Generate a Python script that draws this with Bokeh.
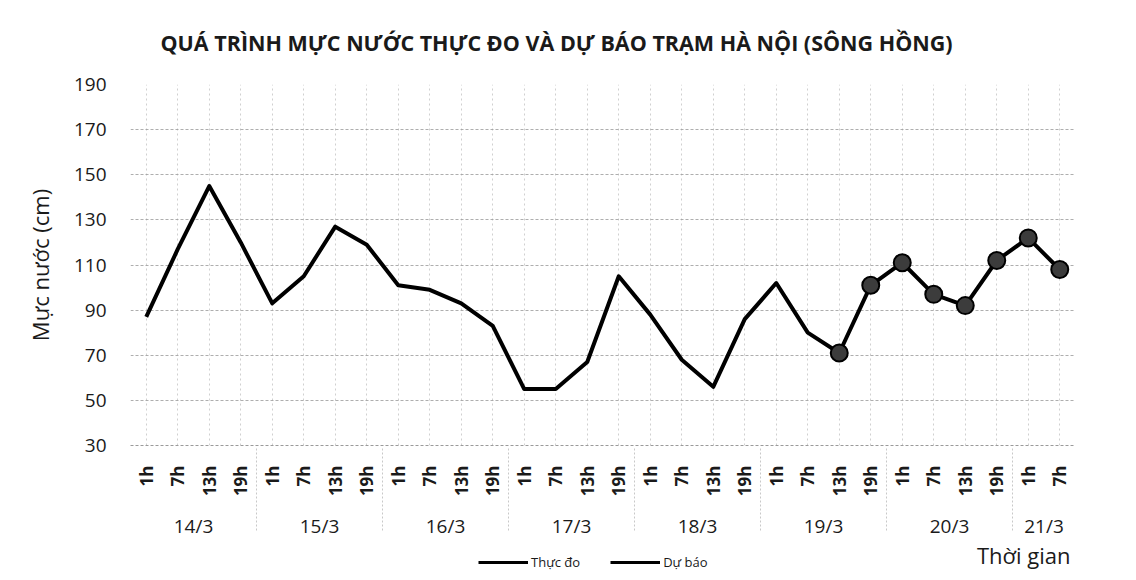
from bokeh.plotting import figure
from bokeh.layouts import column
from bokeh.models import (FactorRange, Range1d, Legend, LegendItem, ColumnDataSource, FixedTicker)
from bokeh.embed import file_html
from bokeh.resources import INLINE

dates = ["14/3", "15/3", "16/3", "17/3", "18/3", "19/3", "20/3", "21/3"]
hours = ["1h", "7h", "13h", "19h"]
last_day_hours = ["1h", "7h"]

observed = [87, 117, 145, 120,
            93, 105, 127, 119,
            101, 99, 93, 83,
            55, 55, 67, 105,
            88, 68, 56, 86,
            102, 80, 71]
forecast = [71, 101, 111, 97, 92, 112, 122, 108]
y_ticks = [30, 50, 70, 90, 110, 130, 150, 170, 190]
series_names = ["Thực đo", "Dự báo"]
x_title = "Thời gian"

factors = [(d, h) for d in dates[:-1] for h in hours] + [(dates[-1], h) for h in last_day_hours]
obs_x = factors[:len(observed)]
fc_x = factors[len(observed) - 1:len(observed) - 1 + len(forecast)]

FONT = "Open Sans"
TXT = "#1a1a1a"

p = figure(width=1136, height=542,
           x_range=FactorRange(*factors, group_padding=0, subgroup_padding=0, range_padding=0),
           y_range=Range1d(30, 190),
           output_backend="svg", toolbar_location=None,
           min_border_left=130, min_border_right=61, min_border_top=84, min_border_bottom=90)

p.title.text = "QUÁ TRÌNH MỰC NƯỚC THỰC ĐO VÀ DỰ BÁO TRẠM HÀ NỘI (SÔNG HỒNG)"
p.title.text_font = FONT
p.title.text_font_size = "21.5px"
p.title.text_font_style = "bold"
p.title.text_color = TXT
p.title.align = "left"
p.title.vertical_align = "top"
p.title.offset = 30
p.title.standoff = 52

p.outline_line_color = None

# grids
p.ygrid.ticker = FixedTicker(ticks=y_ticks)
p.ygrid.grid_line_color = "#9a9a9a"
p.ygrid.grid_line_dash = "3 2"
p.ygrid.grid_line_alpha = 0.8
p.xgrid.grid_line_color = "#c4c4c4"
p.xgrid.grid_line_dash = "2 3"
p.xgrid.grid_line_alpha = 0.8

# y axis
p.yaxis.ticker = FixedTicker(ticks=y_ticks)
p.yaxis.axis_line_color = None
p.yaxis.major_tick_line_color = None
p.yaxis.minor_tick_line_color = None
p.yaxis.major_label_text_font = FONT
p.yaxis.major_label_text_font_size = "19px"
p.yaxis.major_label_text_color = TXT
p.yaxis.major_label_standoff = 18
p.yaxis.axis_label = "Mực nước (cm)"
p.yaxis.axis_label_text_font = FONT
p.yaxis.axis_label_text_font_size = "22px"
p.yaxis.axis_label_text_font_style = "normal"
p.yaxis.axis_label_text_color = TXT
p.yaxis.axis_label_standoff = 16

# x axis
xa = p.xaxis[0]
xa.axis_line_color = "#9a9a9a"
xa.axis_line_dash = "3 2"
xa.major_tick_line_color = None
xa.minor_tick_line_color = None
xa.major_label_orientation = 1.5708
xa.major_label_text_font = FONT
xa.major_label_text_font_size = "17px"
xa.major_label_text_font_style = "bold"
xa.major_label_text_color = TXT
xa.major_label_standoff = 14
xa.group_text_font = FONT
xa.group_text_font_size = "19px"
xa.group_text_font_style = "normal"
xa.group_text_color = TXT
xa.group_label_orientation = "horizontal"
xa.separator_line_color = "#c8c8c8"
xa.separator_line_dash = "2 2"
xa.separator_line_width = 1

# data
src_obs = ColumnDataSource(dict(x=obs_x, y=observed))
src_fc = ColumnDataSource(dict(x=fc_x, y=forecast))
p.line("x", "y", source=src_obs, line_color="black", line_width=4, line_join="round")
p.line("x", "y", source=src_fc, line_color="black", line_width=4, line_join="round")
p.scatter("x", "y", source=src_fc, size=17, fill_color="#3c3c3c", line_color="black", line_width=2)

# legend strip below the chart (frame aligned with the main chart)
q = figure(width=1136, height=38, x_range=Range1d(0, 945), y_range=Range1d(0, 38),
           x_axis_location=None, y_axis_location=None,
           output_backend="svg", toolbar_location=None,
           min_border_left=130, min_border_right=61, min_border_top=0, min_border_bottom=0)
q.grid.visible = False
q.outline_line_color = None
lr_obs = q.line(x=list(range(len(observed))), y=observed, line_color="black", line_width=3, visible=False)
lr_fc = q.line(x=list(range(len(forecast))), y=forecast, line_color="black", line_width=3, visible=False)
lr_blank = q.line(x=list(range(len(forecast))), y=forecast, line_alpha=0, visible=False)

legend = Legend(items=[LegendItem(label=series_names[0], renderers=[lr_obs]),
                       LegendItem(label=series_names[1], renderers=[lr_fc])],
                orientation="horizontal", location=(348, 9),
                label_text_font=FONT, label_text_font_size="13px", label_text_color=TXT,
                glyph_width=50, glyph_height=10, label_standoff=3, spacing=30,
                border_line_color=None, background_fill_alpha=0, margin=0, padding=0)
q.add_layout(legend, "center")

# axis title "Thời gian" at the lower right (kept inside the strip's frame)
x_title_box = Legend(items=[LegendItem(label=x_title, renderers=[lr_blank])],
                     orientation="horizontal", location=(846, 10),
                     label_text_font=FONT, label_text_font_size="22px", label_text_color=TXT,
                     glyph_width=1, glyph_height=10, label_standoff=0,
                     border_line_color=None, background_fill_alpha=0, margin=0, padding=0)
q.add_layout(x_title_box, "center")

layout = column(p, q, spacing=0)
open("out.html", "w").write(file_html(layout, INLINE))
